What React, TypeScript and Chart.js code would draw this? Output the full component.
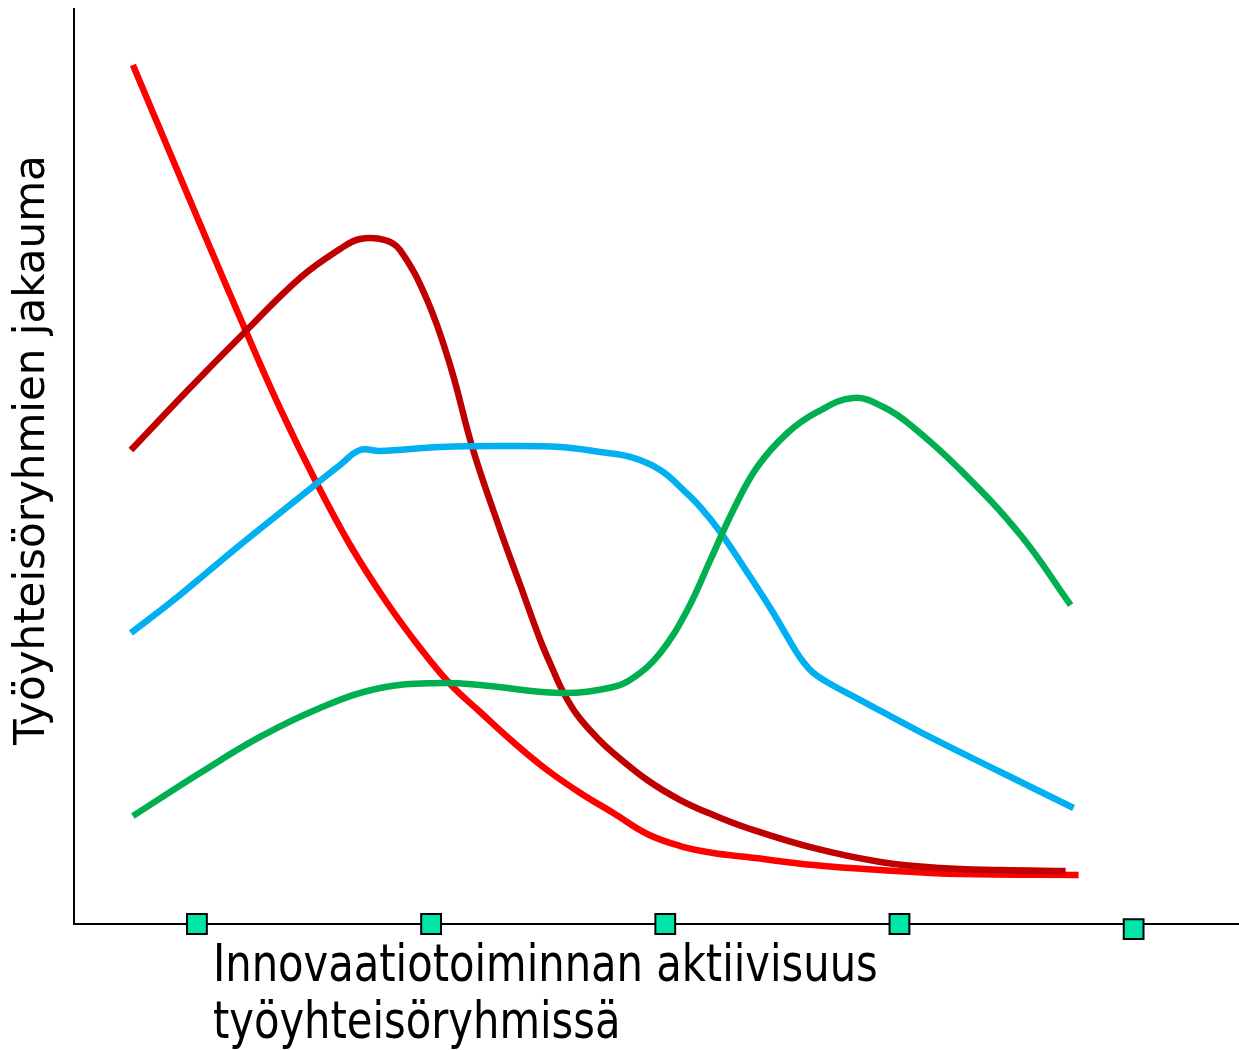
import React, { useEffect, useRef } from "react";
import { Chart, registerables } from "chart.js";

Chart.register(...registerables);

// x: innovation activity (square markers at 1,3,5,7,9), y: share of groups
const markerX = [1, 3, 5, 7, 9];
const markerY = [0, 0, 0, 0, -0.55];

const redX = [0.453, 1.026, 1.41, 1.709, 2.026, 2.308, 2.607, 2.906, 3.162, 3.419, 3.701, 3.991, 4.274, 4.556, 4.846, 5.128, 5.41, 5.701, 6.265, 6.838, 7.521, 8.53];
const redY = [93.88, 76.5, 65.03, 56.39, 48.09, 41.42, 35.41, 30.16, 26.23, 23.17, 19.89, 16.83, 14.32, 12.13, 9.84, 8.52, 7.76, 7.32, 6.45, 5.9, 5.46, 5.36];

const darkRedX = [0.436, 0.94, 1.41, 1.88, 2.222, 2.393, 2.607, 2.735, 2.966, 3.162, 3.359, 3.59, 3.761, 3.932, 4.034, 4.128, 4.248, 4.419, 4.556, 4.846, 5.128, 5.41, 5.701, 6.265, 6.838, 7.35, 7.863, 8.419];
const darkRedY = [51.8, 58.58, 64.7, 70.6, 73.77, 74.86, 74.75, 73.66, 68.2, 61.09, 51.8, 43.06, 37.05, 31.04, 27.98, 25.36, 22.84, 20.33, 18.69, 15.74, 13.55, 11.91, 10.49, 8.31, 6.78, 6.12, 5.9, 5.79];

const blueX = [0.436, 0.855, 1.368, 1.88, 2.222, 2.393, 2.564, 3.077, 3.59, 4.103, 4.444, 4.701, 4.957, 5.154, 5.299, 5.47, 5.726, 5.923, 6.043, 6.154, 6.256, 6.41, 6.667, 7.179, 7.863, 8.487];
const blueY = [31.8, 35.96, 41.42, 46.67, 50.16, 51.8, 51.69, 52.13, 52.24, 52.13, 51.58, 51.04, 49.62, 47.43, 45.57, 42.84, 37.92, 33.99, 31.37, 29.07, 27.54, 26.23, 24.48, 20.98, 16.61, 12.68];

const greenX = [0.453, 1.026, 1.538, 2.051, 2.564, 3.077, 3.419, 4.103, 4.556, 4.726, 4.957, 5.188, 5.385, 5.581, 5.786, 6.043, 6.299, 6.607, 6.863, 7.094, 7.521, 8.034, 8.462];
const greenY = [11.8, 16.5, 20.44, 23.61, 25.79, 26.34, 26.12, 25.25, 25.9, 26.89, 29.62, 34.32, 39.78, 45.25, 49.95, 53.66, 55.96, 57.49, 56.5, 54.54, 49.62, 42.51, 34.86];

const yTitle = "Työyhteisöryhmien jakauma";
const xTitleLines = ["Innovaatiotoiminnan aktiivisuus", "työyhteisöryhmissä"];

const pts = (xs: number[], ys: number[]) => xs.map((x, i) => ({ x, y: ys[i] }));

export default function App() {
  const ref = useRef<HTMLCanvasElement | null>(null);
  useEffect(() => {
    if (!ref.current) return;
    const lineDs = (label: string, xs: number[], ys: number[], color: string) => ({
      type: "line" as const,
      label,
      data: pts(xs, ys),
      borderColor: color,
      backgroundColor: color,
      borderWidth: 6.5,
      pointRadius: 0,
      fill: false,
      tension: 0.4,
    });
    const chart = new Chart(ref.current, {
      type: "line",
      data: {
        datasets: [
          lineDs("green", greenX, greenY, "#00B050"),
          lineDs("blue", blueX, blueY, "#00B0F0"),
          lineDs("darkred", darkRedX, darkRedY, "#C00000"),
          lineDs("red", redX, redY, "#FF0000"),
          {
            type: "scatter" as const,
            label: "markers",
            data: pts(markerX, markerY),
            pointStyle: "rect",
            pointRadius: 14,
            backgroundColor: "#00E6A8",
            borderColor: "#000000",
            borderWidth: 2,
            clip: false,
          } as any,
        ],
      },
      options: {
        responsive: false,
        animation: false,
        layout: { autoPadding: false, padding: { left: 74, top: 9, right: 0, bottom: 126 } },
        plugins: { legend: { display: false }, tooltip: { enabled: false } },
        scales: {
          x: {
            type: "linear",
            min: -0.05,
            max: 9.9,
            grid: { display: false, drawTicks: false },
            ticks: { display: false },
            border: { display: true, color: "#000000", width: 2 },
          },
          y: {
            type: "linear",
            min: 0,
            max: 100,
            grid: { display: false, drawTicks: false },
            ticks: { display: false },
            border: { display: true, color: "#000000", width: 2 },
          },
        },
      },
    });
    return () => chart.destroy();
  }, []);

  return (
    <div style={{ position: "absolute", left: 0, top: 0, width: 1239, height: 1050, background: "#fff" }}>
      <canvas ref={ref} width={1239} height={1050} style={{ position: "absolute", left: 0, top: 0 }} />
      <div
        style={{
          position: "absolute",
          left: 5,
          top: 745,
          transformOrigin: "left top",
          transform: "rotate(-90deg)",
          fontFamily: "'DejaVu Sans', Verdana, sans-serif",
          fontSize: 42,
          whiteSpace: "nowrap",
          color: "#000",
        }}
      >
        {yTitle}
      </div>
      <div
        style={{
          position: "absolute",
          left: 213,
          top: 935,
          fontFamily: "'Liberation Sans Narrow', 'DejaVu Sans Condensed', sans-serif",
          fontSize: 51,
          lineHeight: "57px",
          whiteSpace: "nowrap",
          color: "#000",
          transformOrigin: "left top",
          transform: "scaleX(0.908)",
        }}
      >
        {xTitleLines.map((l, i) => (
          <div key={i}>{l}</div>
        ))}
      </div>
    </div>
  );
}
